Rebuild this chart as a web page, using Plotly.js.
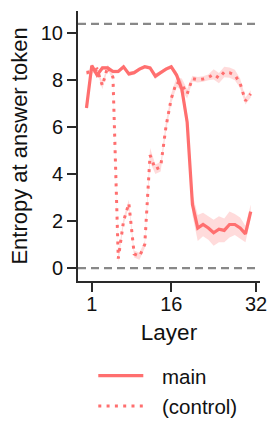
<!DOCTYPE html>
<html>
<head>
<meta charset="utf-8">
<script src="https://cdn.plot.ly/plotly-3.0.1.min.js"></script>
<style>html,body{margin:0;padding:0;background:#fff;}#chart{width:280px;height:438px;}</style>
</head>
<body>
<div id="chart"></div>
<script>
// ---- data ----
var layers = [0,1,2,3,4,5,6,7,8,9,10,11,12,13,14,15,16,17,18,19,20,21,22,23,24,25,26,27,28,29,30,31];
var mainVals = [6.8,8.6,8.2,8.5,8.5,8.35,8.35,8.55,8.25,8.3,8.45,8.55,8.5,8.15,8.3,8.45,8.55,8.2,7.6,6.2,2.7,1.7,1.85,1.7,1.5,1.65,1.6,1.85,1.85,1.7,1.45,2.4];
var mainErr  = [0.1,0.08,0.08,0.08,0.08,0.08,0.08,0.08,0.1,0.08,0.08,0.08,0.08,0.12,0.08,0.08,0.08,0.15,0.3,0.35,0.45,0.55,0.5,0.5,0.55,0.55,0.5,0.55,0.45,0.45,0.35,0.3];
var ctrlVals = [8.3,8.35,8.45,7.75,8.55,8.1,0.4,2.0,2.75,0.6,0.5,1.0,4.8,4.2,4.3,6.0,7.2,7.9,7.8,7.4,8.05,8.0,8.03,8.1,8.23,8.07,8.33,8.3,8.2,7.85,7.1,7.4];
var ctrlErr  = [0.1,0.1,0.1,0.15,0.1,0.12,0.15,0.15,0.15,0.15,0.15,0.15,0.3,0.2,0.2,0.2,0.2,0.2,0.25,0.2,0.12,0.12,0.12,0.12,0.22,0.22,0.22,0.22,0.22,0.2,0.15,0.15];
var seriesNames = ['main', '(control)'];
var xTickVals = [1, 16, 32];
var xTickText = ['1', '16', '32'];
var yTickVals = [0, 2, 4, 6, 8, 10];
var refLines = [0, 10.37];

// ---- styles ----
var col = '#ff6f6f';
var band = 'rgba(255,111,111,0.25)';
var font = '"Liberation Sans", Arial, Helvetica, sans-serif';
var txt = '#111';
var dotDash = '3px,5.3px';

function add(a, b, s) { return a.map(function (v, i) { return v + s * b[i]; }); }

function bandTraces(vals, err) {
  return [
    {x: layers, y: add(vals, err, 1), mode: 'lines', line: {width: 0, color: band}, hoverinfo: 'skip', showlegend: false},
    {x: layers, y: add(vals, err, -1), mode: 'lines', line: {width: 0, color: band}, fill: 'tonexty', fillcolor: band, hoverinfo: 'skip', showlegend: false}
  ];
}

var traces = [].concat(
  bandTraces(mainVals, mainErr),
  [{x: layers, y: mainVals, mode: 'lines', name: seriesNames[0], line: {color: col, width: 3.2}, showlegend: false}],
  bandTraces(ctrlVals, ctrlErr),
  [{x: layers, y: ctrlVals, mode: 'lines', name: seriesNames[1], line: {color: col, width: 3, dash: dotDash}, showlegend: false}]
);

var shapes = refLines.map(function (v) {
  return {type: 'line', xref: 'paper', yref: 'y', x0: 0, x1: 1, y0: v, y1: v,
          line: {color: '#888888', width: 2.2, dash: '8px,5px'}, layer: 'below'};
});
// legend samples
shapes.push({type: 'line', xref: 'paper', yref: 'paper', x0: 0.1115, x1: 0.3588, y0: -0.3507, y1: -0.3507, line: {color: col, width: 3.2}});
shapes.push({type: 'line', xref: 'paper', yref: 'paper', x0: 0.1115, x1: 0.3588, y0: -0.463, y1: -0.463, line: {color: col, width: 3, dash: dotDash}});

var annotations = [
  {xref: 'paper', yref: 'paper', x: 0.4505, y: -0.353, xanchor: 'left', yanchor: 'middle', text: seriesNames[0], showarrow: false, font: {family: font, size: 20.5, color: txt}},
  {xref: 'paper', yref: 'paper', x: 0.4505, y: -0.465, xanchor: 'left', yanchor: 'middle', text: seriesNames[1], showarrow: false, font: {family: font, size: 20.5, color: txt}}
];

var layout = {
  width: 280, height: 438,
  margin: {l: 78, r: 20, t: 11, b: 157, pad: 0},
  paper_bgcolor: '#fff', plot_bgcolor: '#fff',
  showlegend: false,
  font: {family: font, color: txt},
  xaxis: {
    range: [-1.6, 32.75], tickvals: xTickVals, ticktext: xTickText,
    showgrid: false, zeroline: false, showline: true, linecolor: '#2a2a2a', linewidth: 2,
    ticks: 'outside', ticklen: 9, tickwidth: 2, tickcolor: '#2a2a2a',
    ticklabelstandoff: -5,
    tickfont: {size: 20, color: txt},
    title: {text: 'Layer', font: {size: 22.5, color: txt}, standoff: 10}
  },
  yaxis: {
    range: [-0.55, 10.92], tickvals: yTickVals,
    showgrid: false, zeroline: false, showline: true, linecolor: '#2a2a2a', linewidth: 2,
    ticks: 'outside', ticklen: 9, tickwidth: 2, tickcolor: '#2a2a2a',
    tickfont: {size: 20, color: txt},
    title: {text: 'Entropy at answer token', font: {size: 22, color: txt}, standoff: 7}
  },
  shapes: shapes,
  annotations: annotations
};

Plotly.newPlot('chart', traces, layout, {staticPlot: true, displayModeBar: false});
</script>
</body>
</html>
